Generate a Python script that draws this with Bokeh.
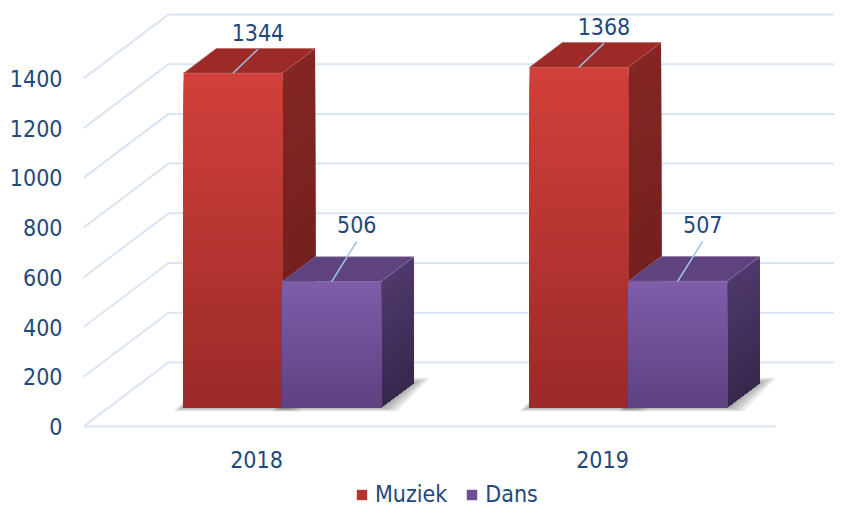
from bokeh.plotting import figure
from bokeh.models import Range1d, Legend, LegendItem, FixedTicker
from bokeh.embed import file_html
from bokeh.resources import INLINE
from bokeh.core.properties import value

# ---------------- data ----------------
years = ["2018", "2019"]
series = ["Muziek", "Dans"]
muziek = [1344, 1368]
dans = [506, 507]
y_ticks = [0, 200, 400, 600, 800, 1000, 1200, 1400]
values = {"Muziek": muziek, "Dans": dans}

# ---------------- style ----------------
FONT = "DejaVu Sans Condensed"
TEXT = "#1F497D"
GRID = "#D9E5F5"
LEADER = "#9DC3E6"

PX_U = 346.0     # px per category (front plane)
PX_V = 0.2486    # px per value unit
DXu = 85 / PX_U  # depth offset of the back wall in x units
DYv = 64 / PX_V  # depth offset of the back wall in value units
D0 = 0.30        # bar front plane depth fraction
DD = 0.385       # bar depth fraction
G0 = 0.2155      # group start within a category
W = 0.2855       # bar width (category units)
N = 40           # gradient strips

front_cols = {"Muziek": ("#D3403B", "#9A2A28"), "Dans": ("#7F5DAB", "#5E4280")}
top_cols = {"Muziek": "#9C2B28", "Dans": "#5F437F"}
side_cols = {"Muziek": ("#842623", "#6A1D1C"), "Dans": ("#4F396C", "#37284D")}
label_off = {"Muziek": (25, 24), "Dans": (25, 40)}  # leader offsets in px


def hex2rgb(h):
    h = h.lstrip("#")
    return tuple(int(h[i:i + 2], 16) for i in (0, 2, 4))


def mix(c1, c2, f):
    a, b = hex2rgb(c1), hex2rgb(c2)
    return "#%02x%02x%02x" % tuple(round(a[i] + (b[i] - a[i]) * f) for i in range(3))


FIG_W, FIG_H = 834, 508
LEFT = 83      # frame left (px)
ZERO_Y = 426   # px of value 0 on the front plane

p = figure(width=FIG_W, height=FIG_H, output_backend="svg", toolbar_location=None,
           x_range=Range1d(0, (FIG_W - LEFT) / PX_U),
           y_range=Range1d(-(FIG_H - ZERO_Y) / PX_V, ZERO_Y / PX_V),
           x_axis_location=None, min_border_left=LEFT, min_border_right=0,
           min_border_top=0, min_border_bottom=0)
p.outline_line_color = None
p.grid.grid_line_color = None
p.background_fill_color = "white"

ax = p.yaxis[0]
ax.ticker = FixedTicker(ticks=y_ticks)
ax.axis_line_color = None
ax.major_tick_line_color = None
ax.minor_tick_line_color = None
ax.major_tick_out = 0
ax.major_tick_in = 0
ax.major_label_standoff = 21
ax.major_label_text_font = FONT
ax.major_label_text_font_size = "23px"
ax.major_label_text_color = TEXT

# ---------------- walls / gridlines ----------------
gx, gy = [], []
for t in y_ticks:
    gx.append([0, DXu, 3.0])
    gy.append([t, t + DYv, t + DYv])
p.multi_line(gx, gy, line_color=GRID, line_width=2)
p.line([0, len(years)], [0, 0], line_color=GRID, line_width=2)

du, dv = DD * DXu, DD * DYv
vb = D0 * DYv


def bar_u0(c, s):
    return c + G0 + s * W + D0 * DXu


# ---------------- shadows ----------------
sx, sy = [], []
for c in range(len(years)):
    for s in range(len(series)):
        u0 = bar_u0(c, s)
        for k in (4, 3, 2, 1):
            eL, eR = 2.5 * k / PX_U, 4.0 * k / PX_U
            eD, eU = 1.0 * k / PX_V, 1.2 * k / PX_V
            sx.append([u0 - eL, u0 + W + eR, u0 + W + du + eR, u0 + du - eL])
            sy.append([vb - eD, vb - eD, vb + dv + eU, vb + dv + eU])
p.patches(sx, sy, fill_color="black", fill_alpha=0.085, line_color=None)

# ---------------- bars ----------------
legend_items = []
for s, name in enumerate(series):
    fl, fr, fb, ft, fc = [], [], [], [], []
    px_, py_, pc = [], [], []
    tx, ty = [], []
    for c in range(len(years)):
        val = values[name][c]
        u0 = bar_u0(c, s)
        vt = vb + val
        # side face: overlapping strips, each reaching down to the floor
        for i in range(N):
            va = vt - val * i / N
            px_.append([u0 + W, u0 + W + du, u0 + W + du, u0 + W])
            py_.append([vb, vb + dv, va + dv, va])
            pc.append(mix(side_cols[name][0], side_cols[name][1], (i + 0.5) / N))
        # top face
        tx.append([u0, u0 + W, u0 + W + du, u0 + du])
        ty.append([vt, vt, vt + dv, vt + dv])
        # front face: overlapping strips
        for i in range(N):
            fl.append(u0)
            fr.append(u0 + W)
            ft.append(vt - val * i / N)
            fb.append(vb)
            fc.append(mix(front_cols[name][0], front_cols[name][1], (i + 0.5) / N))
    p.patches(px_, py_, fill_color=pc, line_color=None)
    p.patches(tx, ty, fill_color=top_cols[name], line_color=mix(top_cols[name], "#ffffff", 0.25),
              line_width=1, line_alpha=0.6)
    r = p.quad(left=fl, right=fr, top=ft, bottom=fb, fill_color=fc, line_color=None)
    legend_items.append(LegendItem(label=name, renderers=[r], index=N // 2))

# ---------------- value labels with leaders ----------------
for s, name in enumerate(series):
    ox, oy = label_off[name]
    lx, ly, ex, ey = [], [], [], []
    for c in range(len(years)):
        u = bar_u0(c, s) + W / 2
        v = vb + values[name][c]
        lx.append([u, u + ox / PX_U])
        ly.append([v, v + oy / PX_V])
        ex.append(u + ox / PX_U)
        ey.append(v + oy / PX_V)
    p.multi_line(lx, ly, line_color=LEADER, line_width=1.5)
    p.text(x=ex, y=ey, text=[str(x) for x in values[name]], text_align="center",
           text_baseline="middle", y_offset=-17, text_font=value(FONT),
           text_font_size="23px", text_color=TEXT)

# ---------------- category labels ----------------
p.text(x=[c + 0.5 for c in range(len(years))], y=[0] * len(years), text=years,
       text_align="center", text_baseline="middle", y_offset=33,
       text_font=value(FONT), text_font_size="23px", text_color=TEXT)

# ---------------- legend ----------------
legend = Legend(items=legend_items, orientation="horizontal", location=(272, 1),
                padding=0, margin=0, spacing=18, glyph_width=13, glyph_height=13,
                label_standoff=7, label_text_font=FONT, label_text_font_size="23px",
                label_text_color=TEXT, background_fill_alpha=0, border_line_alpha=0)
p.add_layout(legend)

open("out.html", "w").write(file_html(p, INLINE))
